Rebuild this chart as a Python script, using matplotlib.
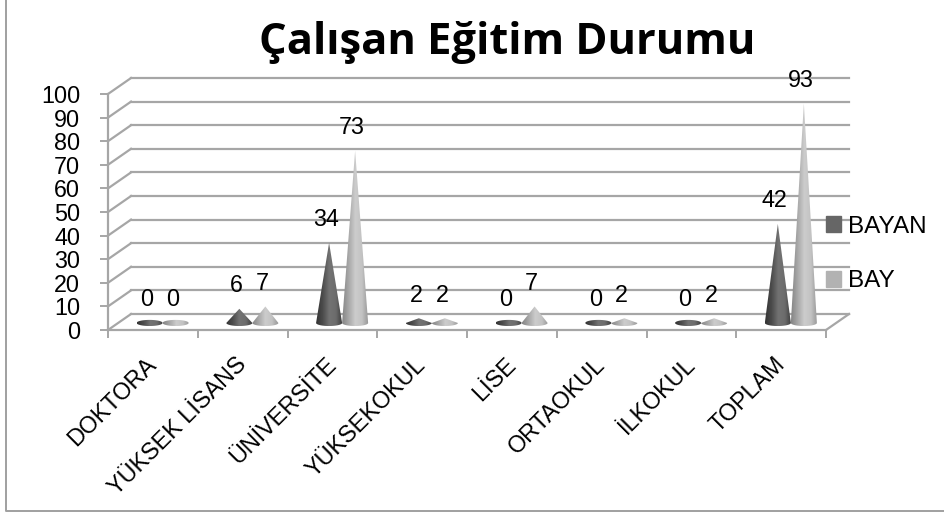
import matplotlib
matplotlib.use("Agg")
import matplotlib.pyplot as plt
import numpy as np
from matplotlib.patches import Patch, PathPatch
from matplotlib.path import Path

W, H = 944, 513

categories = ["DOKTORA", "YÜKSEK LİSANS", "ÜNİVERSİTE", "YÜKSEKOKUL", "LİSE", "ORTAOKUL", "İLKOKUL", "TOPLAM"]
bayan = [0, 6, 34, 2, 0, 0, 0, 42]
bay = [0, 7, 73, 2, 7, 2, 2, 93]
y_ticks = list(range(0, 101, 10))

GRID = "#a6a6a6"
DEPTH_X = 23 / 89.6   # back wall offset in category units
DEPTH_Y = 16 / 2.36   # back wall offset in value units

plt.rcParams["font.family"] = ["Liberation Sans", "DejaVu Sans"]


def cone(ax, xc, value, cmap_stops):
    half_w = 0.145
    ell_h = 1.3
    base = DEPTH_Y * 0.44
    t = np.linspace(np.pi, 2 * np.pi, 30)
    ex = xc + half_w * np.cos(t)
    ey = base + ell_h * np.sin(t)
    if value == 0:
        top = np.array([[xc + half_w * np.cos(a), base + ell_h * np.sin(a)] for a in np.linspace(0, np.pi, 30)])
        pts = np.vstack([top, np.column_stack([ex, ey])])
    else:
        pts = np.vstack([[[xc, base + value]], np.column_stack([ex, ey])])
    path = Path(np.vstack([pts, pts[:1]]))
    patch = PathPatch(path, facecolor="none", edgecolor="none", transform=ax.transData)
    ax.add_patch(patch)
    stops = np.linspace(0, 1, len(cmap_stops))
    grad = np.interp(np.linspace(0, 1, 64), stops, cmap_stops).reshape(1, -1)
    im = ax.imshow(grad, extent=[xc - half_w, xc + half_w, base - ell_h, base + max(value, ell_h)],
                   cmap="gray", vmin=0, vmax=1, aspect="auto", zorder=4, interpolation="bilinear")
    im.set_clip_path(patch)


fig = plt.figure(figsize=(W / 100, H / 100), dpi=100)
fig.patch.set_facecolor("white")
fig.add_artist(plt.Line2D([6 / W, 6 / W, 1], [1, 1 - 511 / H, 1 - 511 / H],
                          color="#a0a0a0", lw=1.4, zorder=-1))

ax = fig.add_axes([108 / W, 1 - 330 / H, 718 / W, 236 / H])
ax.set_xlim(0, 8)
ax.set_ylim(0, 100)
ax.patch.set_alpha(0)
for s in ax.spines.values():
    s.set_visible(False)

# back wall and left side
for v in y_ticks:
    ax.plot([0, DEPTH_X], [v, v + DEPTH_Y], color=GRID, lw=1.6, clip_on=False, zorder=1)
    ax.plot([DEPTH_X, 8 + DEPTH_X], [v + DEPTH_Y, v + DEPTH_Y], color=GRID, lw=1.6, clip_on=False, zorder=1)
ax.plot([8, 8 + DEPTH_X], [0, DEPTH_Y], color=GRID, lw=1.6, clip_on=False, zorder=1)
ax.plot([0, 8], [0, 0], color=GRID, lw=1.6, clip_on=False, zorder=1)
ax.plot([0, 0], [0, 100], color=GRID, lw=1.6, clip_on=False, zorder=1)

ax.set_xticks(range(9))
ax.set_yticks(y_ticks)
ax.tick_params(axis="both", color=GRID, width=1.4, length=5.5, labelsize=16.8, pad=14.5, labelcolor="black")
ax.set_yticklabels([str(v) for v in y_ticks])
ax.set_xticklabels([])
for i, c in enumerate(categories):
    ax.annotate(c, (i + 0.5, 0), xytext=(-8, -23), textcoords="offset pixels", rotation=45,
                ha="right", va="top", rotation_mode="anchor", fontsize=16.8, annotation_clip=False)

dark = [0.20, 0.30, 0.45, 0.42, 0.22]
light = [0.52, 0.66, 0.80, 0.76, 0.58]
for i in range(len(categories)):
    x1 = i + 0.5 - 0.145 + DEPTH_X / 2 - 0.02
    x2 = i + 0.5 + 0.145 + DEPTH_X / 2 - 0.02
    cone(ax, x1, bayan[i], dark)
    cone(ax, x2, bay[i], light)
    base = DEPTH_Y * 0.44
    ax.annotate(str(bayan[i]), (x1, bayan[i] + base), xytext=(-3, 23), textcoords="offset pixels",
                ha="center", va="center", fontsize=16.8, zorder=6, annotation_clip=False)
    ax.annotate(str(bay[i]), (x2, bay[i] + base), xytext=(-3, 23), textcoords="offset pixels",
                ha="center", va="center", fontsize=16.8, zorder=6, annotation_clip=False)
ax.set_xlim(0, 8)
ax.set_ylim(0, 100)

handles = [Patch(color="#666666", label="BAYAN"), Patch(color="#b2b2b2", label="BAY")]
fig.legend(handles=handles, loc="center left", bbox_to_anchor=(821 / W, 1 - 254 / H), frameon=False,
           fontsize=17.5, handlelength=0.62, handleheight=0.62, handletextpad=0.3, labelspacing=1.35,
           borderpad=0.2, borderaxespad=0)

fig.text(507 / W, 1 - 43 / H, "Çalışan Eğitim Durumu", fontsize=31.3, fontweight="bold",
         family=["Open Sans", "DejaVu Sans"], ha="center", va="center")

fig.savefig("out.png", dpi=100)
